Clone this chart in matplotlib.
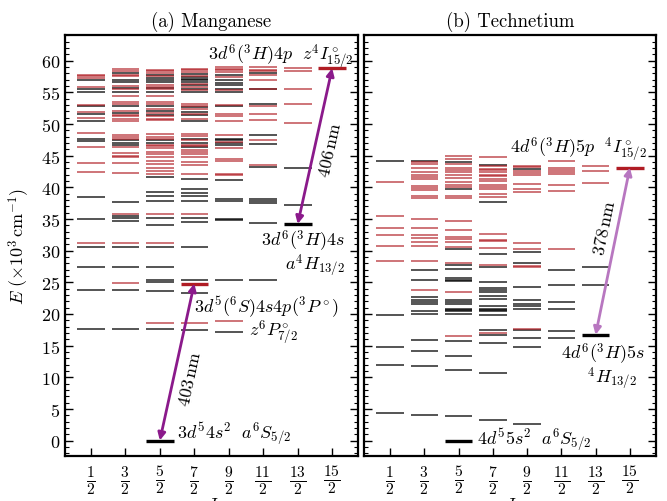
import matplotlib
matplotlib.use("Agg")
import matplotlib.pyplot as plt
from matplotlib.ticker import MultipleLocator

plt.rcParams.update({
    'font.family': 'serif',
    'font.serif': ['cmr10'],
    'mathtext.fontset': 'cm',
    'axes.formatter.use_mathtext': True,
    'font.size': 12,
    'axes.unicode_minus': False,
})

# ---------------- data ----------------
J_VALUES = [0.5, 1.5, 2.5, 3.5, 4.5, 5.5, 6.5, 7.5]
J_LABELS = [r'$\frac{1}{2}$', r'$\frac{3}{2}$', r'$\frac{5}{2}$', r'$\frac{7}{2}$',
            r'$\frac{9}{2}$', r'$\frac{11}{2}$', r'$\frac{13}{2}$', r'$\frac{15}{2}$']

# Manganese levels (10^3 cm^-1), even parity (black) / odd parity (red)
mn_even_J1_2 = [56.9, 55.5, 55.0, 52.8, 51.6, 50.5, 47.6, 47.3, 38.4, 34.95, 30.55, 27.4, 23.8, 17.6]
mn_odd_J1_2 = [57.8, 57.5, 57.3, 55.8, 53.0, 51.9, 50.9, 48.5, 46.3, 43.8, 42.4, 31.2]
mn_even_J3_2 = [58.0, 57.0, 56.6, 55.7, 55.0, 52.8, 51.8, 47.4, 47.0, 46.7, 37.7, 35.5, 35.2,
                34.75, 30.55, 27.4, 23.85, 17.65]
mn_odd_J3_2 = [58.7, 58.4, 57.8, 57.5, 56.0, 55.45, 54.4, 53.5, 53.1, 52.1, 51.45, 51.2, 50.8,
               50.45, 48.3, 47.9, 47.7, 46.3, 45.4, 45.0, 44.8, 43.8, 42.2, 35.8, 31.2, 24.9]
mn_even_J5_2 = [57.8, 57.25, 57.0, 56.6, 55.7, 55.1, 52.8, 52.1, 51.45, 47.4, 47.0, 41.6, 39.2,
                38.7, 37.9, 35.2, 34.0, 30.55, 27.4, 25.4, 25.0, 23.6, 17.65]
mn_odd_J5_2 = [58.6, 58.35, 58.0, 57.5, 56.2, 55.9, 55.45, 54.4, 53.45, 53.1, 52.4, 51.8, 51.2,
               50.8, 50.55, 48.45, 48.0, 47.7, 46.7, 46.5, 46.2, 45.6, 45.2, 44.8, 44.1, 43.6,
               43.0, 42.5, 42.1, 35.8, 31.2, 18.6]
mn_even_J7_2 = [57.9, 57.4, 57.15, 56.9, 56.6, 56.1, 55.55, 55.0, 52.7, 51.9, 51.35, 50.4, 47.7,
                47.0, 46.3, 41.3, 39.65, 39.1, 38.6, 37.9, 35.1, 34.5, 30.55, 25.3, 23.3, 17.5]
mn_odd_J7_2 = [58.7, 58.45, 58.2, 57.65, 56.35, 55.8, 55.3, 53.2, 52.9, 52.4, 51.6, 50.8, 48.45,
               48.1, 47.4, 46.7, 46.5, 45.9, 45.65, 45.3, 44.8, 44.0, 43.45, 42.1, 35.8, 18.5]
mn_even_J9_2 = [57.8, 57.0, 56.5, 56.2, 55.6, 55.0, 52.8, 47.7, 47.4, 47.0, 46.7, 41.1, 38.2,
                37.9, 35.0, 34.8, 25.3, 17.2]
mn_odd_J9_2 = [59.0, 58.7, 58.45, 58.2, 57.4, 55.3, 53.0, 51.6, 51.25, 50.4, 48.2, 47.1, 46.2,
               44.4, 44.1, 42.1, 41.9, 18.8]
mn_even_J11_2 = [58.0, 55.6, 53.1, 48.2, 46.9, 43.2, 38.2, 37.9, 37.5, 34.3, 25.3]
mn_odd_J11_2 = [59.0, 58.6, 58.3, 57.7, 57.0, 55.6, 52.9, 51.6, 50.55, 47.4, 43.45]
mn_even_J13_2 = [43.1, 37.2]
mn_odd_J13_2 = [58.8, 58.35, 55.6, 53.1, 50.2]
mn_even_J15_2 = []
mn_odd_J15_2 = []
# highlighted (thick) Mn levels
mn_hl_J = [2.5, 3.5, 6.5, 7.5]
mn_hl_E = [0.0, 24.8, 34.2, 58.8]
mn_hl_odd = [False, True, False, True]

# Technetium levels (10^3 cm^-1)
tc_even_J1_2 = [44.2, 19.9, 14.75, 12.0, 4.3]
tc_odd_J1_2 = [40.9, 35.4, 33.55, 32.5, 30.8, 28.3]
tc_even_J3_2 = [44.1, 26.9, 25.4, 22.65, 22.2, 21.9, 21.5, 20.4, 20.0, 15.9, 14.2, 11.75, 4.1]
tc_odd_J3_2 = [44.0, 43.6, 43.1, 42.4, 42.0, 41.7, 41.3, 40.2, 39.9, 39.5, 38.6, 38.3, 35.0,
               33.55, 32.4, 32.0, 31.4, 30.7, 28.3, 23.7]
tc_even_J5_2 = [44.0, 39.65, 30.2, 27.8, 27.1, 25.7, 25.4, 25.2, 22.2, 21.9, 21.5, 20.8, 20.6,
                20.4, 20.0, 15.7, 13.3, 11.2, 3.8]
tc_odd_J5_2 = [45.0, 44.5, 43.6, 43.1, 42.8, 42.4, 41.9, 41.45, 40.9, 40.3, 40.0, 38.7, 38.3,
               34.6, 33.3, 32.1, 31.9, 31.35, 30.55, 28.1, 23.5, 16.5]
tc_even_J7_2 = [43.55, 37.75, 29.4, 27.4, 25.1, 24.1, 23.8, 23.4, 22.75, 22.4, 21.3, 20.8, 20.6,
                20.4, 19.9, 17.5, 16.6, 15.4, 10.6, 3.3]
tc_odd_J7_2 = [44.8, 43.3, 42.9, 42.65, 42.4, 42.0, 41.8, 41.3, 41.0, 40.4, 40.1, 39.8, 39.0,
               38.45, 32.65, 31.6, 31.5, 30.4, 27.75, 17.0]
tc_even_J9_2 = [42.9, 29.8, 28.1, 24.2, 22.2, 21.5, 21.2, 20.8, 17.5, 16.2, 14.85, 2.6]
tc_odd_J9_2 = [43.4, 43.2, 42.55, 42.2, 41.9, 40.45, 39.8, 39.3, 31.2, 30.3, 27.6, 27.4, 17.6]
tc_even_J11_2 = [27.0, 24.6, 21.9, 20.75, 17.3, 16.2]
tc_odd_J11_2 = [44.2, 43.0, 42.65, 42.4, 42.1, 40.3, 39.4, 30.2]
tc_even_J13_2 = [27.4, 24.6]
tc_odd_J13_2 = [43.3, 42.5, 40.65]
tc_even_J15_2 = []
tc_odd_J15_2 = []
tc_hl_J = [2.5, 6.5, 7.5]
tc_hl_E = [0.0, 16.7, 43.1]
tc_hl_odd = [False, False, True]

# transitions (J_lower, E_lower, J_upper, E_upper)
mn_trans = [(2.5, 0.0, 3.5, 24.8), (6.5, 34.2, 7.5, 58.8)]
mn_trans_labels = [r'$403\,\mathrm{nm}$', r'$406\,\mathrm{nm}$']
tc_trans = [(6.5, 16.7, 7.5, 43.1)]
tc_trans_labels = [r'$378\,\mathrm{nm}$']

mn_even = [mn_even_J1_2, mn_even_J3_2, mn_even_J5_2, mn_even_J7_2,
           mn_even_J9_2, mn_even_J11_2, mn_even_J13_2, mn_even_J15_2]
mn_odd = [mn_odd_J1_2, mn_odd_J3_2, mn_odd_J5_2, mn_odd_J7_2,
          mn_odd_J9_2, mn_odd_J11_2, mn_odd_J13_2, mn_odd_J15_2]
tc_even = [tc_even_J1_2, tc_even_J3_2, tc_even_J5_2, tc_even_J7_2,
           tc_even_J9_2, tc_even_J11_2, tc_even_J13_2, tc_even_J15_2]
tc_odd = [tc_odd_J1_2, tc_odd_J3_2, tc_odd_J5_2, tc_odd_J7_2,
          tc_odd_J9_2, tc_odd_J11_2, tc_odd_J13_2, tc_odd_J15_2]

RED = '#b01c24'
BLACK = '#000000'
PURPLE = '#8b1a8b'
PURPLE_LIGHT = '#b877c0'
HW = 0.4

fig = plt.figure(figsize=(6.67, 5.02), dpi=100)
axL = fig.add_axes([0.0975, 0.0902, 0.4393, 0.8387])
axR = fig.add_axes([0.5462, 0.0902, 0.4367, 0.8387])


def draw_levels(ax, even, odd, hlJ, hlE, hlodd):
    for J, ev, od in zip(J_VALUES, even, odd):
        if ev:
            ax.hlines(ev, J - HW, J + HW, colors=BLACK, lw=1.1, alpha=0.85)
        if od:
            ax.hlines(od, J - HW, J + HW, colors=RED, lw=1.1, alpha=0.78)
    for J, E, o in zip(hlJ, hlE, hlodd):
        ax.hlines(E, J - HW, J + HW, colors=RED if o else BLACK, lw=2.4, alpha=1.0)


def style(ax, ylabels=True):
    ax.set_xlim(-0.25, 8.25)
    ax.set_ylim(-2.4, 64.1)
    ax.set_xticks(J_VALUES)
    ax.set_xticklabels(J_LABELS, fontsize=16)
    ax.yaxis.set_major_locator(MultipleLocator(5))
    ax.yaxis.set_minor_locator(MultipleLocator(1))
    ax.set_yticks(range(0, 61, 5))
    ax.tick_params(axis='y', which='both', direction='in', left=True, right=True,
                   labelleft=ylabels)
    ax.tick_params(axis='y', which='major', length=6, width=1.0, labelsize=13)
    ax.tick_params(axis='y', which='minor', length=3, width=0.8)
    ax.tick_params(axis='x', which='major', direction='in', length=6, width=1.0,
                   top=False, bottom=True, pad=5)
    for s in ax.spines.values():
        s.set_linewidth(1.6)
    ax.set_xlabel(r'$J$', fontsize=13, labelpad=0)


draw_levels(axL, mn_even, mn_odd, mn_hl_J, mn_hl_E, mn_hl_odd)
draw_levels(axR, tc_even, tc_odd, tc_hl_J, tc_hl_E, tc_hl_odd)
style(axL, True)
style(axR, False)
axL.set_ylabel(r'$E\ (\times 10^3\,\mathrm{cm}^{-1})$', fontsize=13, labelpad=6)
axL.set_title('(a) Manganese', fontsize=13.5, pad=6)
axR.set_title('(b) Technetium', fontsize=13.5, pad=6)

for (j0, e0, j1, e1) in mn_trans:
    axL.annotate('', xy=(j1, e1), xytext=(j0, e0),
                 arrowprops=dict(arrowstyle='<|-|>', color=PURPLE, lw=2.0,
                                 shrinkA=0, shrinkB=0, mutation_scale=11))
for (j0, e0, j1, e1) in tc_trans:
    axR.annotate('', xy=(j1, e1), xytext=(j0, e0),
                 arrowprops=dict(arrowstyle='<|-|>', color=PURPLE_LIGHT, lw=2.0,
                                 shrinkA=0, shrinkB=0, mutation_scale=11))

axL.text(3.37, 9.9, mn_trans_labels[0], rotation=77.8, ha='center', va='center', fontsize=13)
axL.text(7.45, 46.1, mn_trans_labels[1], rotation=77.6, ha='center', va='center', fontsize=13)
axR.text(6.74, 33.8, tc_trans_labels[0], rotation=78.4, ha='center', va='center', fontsize=13)

# state labels
fs = 13
axL.text(8.12, 60.3, r'$3d^6(^3H)4p\ \ z^4I^\circ_{15/2}$', ha='right', va='baseline', fontsize=fs)
axL.text(7.86, 30.8, r'$3d^6(^3H)4s$', ha='right', va='baseline', fontsize=fs)
axL.text(7.86, 27.0, r'$a^4H_{13/2}$', ha='right', va='baseline', fontsize=fs)
axL.text(3.48, 20.3, r'$3d^5(^6S)4s4p(^3P^\circ)$', ha='left', va='baseline', fontsize=fs)
axL.text(5.09, 16.7, r'$z^6P^\circ_{7/2}$', ha='left', va='baseline', fontsize=fs)
axL.text(3.01, 0.4, r'$3d^54s^2\ \ a^6S_{5/2}$', ha='left', va='baseline', fontsize=fs)

axR.text(7.99, 45.6, r'$4d^6(^3H)5p\ \ ^4I^\circ_{15/2}$', ha='right', va='baseline', fontsize=fs)
axR.text(7.93, 12.9, r'$4d^6(^3H)5s$', ha='right', va='baseline', fontsize=fs)
axR.text(7.7, 9.2, r'$^4H_{13/2}$', ha='right', va='baseline', fontsize=fs)
axR.text(3.03, -0.5, r'$4d^55s^2\ \ a^6S_{5/2}$', ha='left', va='baseline', fontsize=fs)

fig.savefig('out.png', dpi=100)
